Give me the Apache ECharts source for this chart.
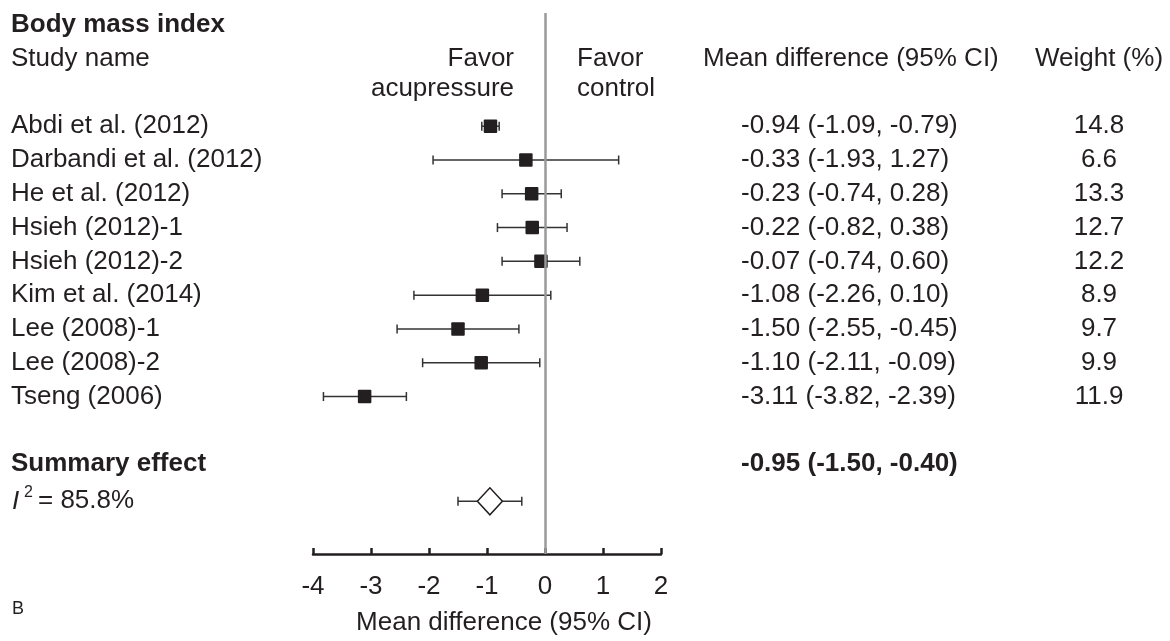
<!DOCTYPE html>
<html>
<head>
    <meta charset="UTF-8">
    <title>Body mass index</title>
    <script src="https://cdn.jsdelivr.net/npm/echarts@6/dist/echarts.min.js"></script>
    <style>html,body{margin:0;padding:0;background:#fff;}</style>
</head>
<body>
<div id="forest" style="width:1170px;height:641px;"></div>
<script>
    // study level data
    var studyNames = ['Abdi et al. (2012)', 'Darbandi et al. (2012)', 'He et al. (2012)', 'Hsieh (2012)-1',
        'Hsieh (2012)-2', 'Kim et al. (2014)', 'Lee (2008)-1', 'Lee (2008)-2', 'Tseng (2006)'];
    var meanDiff = [-0.94, -0.33, -0.23, -0.22, -0.07, -1.08, -1.50, -1.10, -3.11];
    var ciLow = [-1.09, -1.93, -0.74, -0.82, -0.74, -2.26, -2.55, -2.11, -3.82];
    var ciHigh = [-0.79, 1.27, 0.28, 0.38, 0.60, 0.10, -0.45, -0.09, -2.39];
    var weightPct = ['14.8', '6.6', '13.3', '12.7', '12.2', '8.9', '9.7', '9.9', '11.9'];
    // summary: estimate, lower, upper
    var summaryEffect = [-0.95, -1.50, -0.40];
    var iSquared = '85.8%';
    var xTicks = [-4, -3, -2, -1, 0, 1, 2];

    var FONT = '"Liberation Sans", Arial, sans-serif';
    var INK = '#231f20';
    var FS = 26;

    function fmt(v) { return v.toFixed(2); }
    function ciText(m, l, h) { return fmt(m) + ' (' + fmt(l) + ', ' + fmt(h) + ')'; }

    // text cells, placed on the y scale by row
    var cells = [];
    function cell(row, x, text, align, bold) {
        cells.push({row: row, x: x, text: text, align: align || 'left', bold: !!bold});
    }
    cell(-3, 11, 'Body mass index', 'left', true);
    cell(-2, 11, 'Study name');
    cell(-2, 514, 'Favor', 'right');
    cell(-1.12, 514, 'acupressure', 'right');
    cell(-2, 577, 'Favor');
    cell(-1.12, 577, 'control');
    cell(-2, 703, 'Mean difference (95% CI)');
    cell(-2, 1099, 'Weight (%)', 'center');
    for (var i = 0; i < studyNames.length; i++) {
        cell(i, 11, studyNames[i]);
        cell(i, 741, ciText(meanDiff[i], ciLow[i], ciHigh[i]));
        cell(i, 1099, weightPct[i], 'center');
    }
    cell(10, 11, 'Summary effect', 'left', true);
    cell(10, 741, ciText(summaryEffect[0], summaryEffect[1], summaryEffect[2]), 'left', true);
    var SUMMARY_ROW = 11.1;

    var chart = echarts.init(document.getElementById('forest'));

    function whisker(lo, hi, capH) {
        return [
            {type: 'line', shape: {x1: lo[0], y1: lo[1], x2: hi[0], y2: hi[1]}, style: {stroke: '#333', lineWidth: 1.5}},
            {type: 'line', shape: {x1: lo[0], y1: lo[1] - capH, x2: lo[0], y2: lo[1] + capH}, style: {stroke: '#333', lineWidth: 1.5}},
            {type: 'line', shape: {x1: hi[0], y1: hi[1] - capH, x2: hi[0], y2: hi[1] + capH}, style: {stroke: '#333', lineWidth: 1.5}}
        ];
    }

    var option = {
        animation: false,
        grid: {left: 313, right: 509, top: 13, bottom: 83.5, containLabel: false},
        xAxis: {
            type: 'value', min: xTicks[0], max: xTicks[xTicks.length - 1], interval: 1,
            axisLine: {onZero: false, lineStyle: {color: INK, width: 2.5}},
            axisTick: {inside: true, length: 6, lineStyle: {color: INK, width: 2.5}},
            axisLabel: {fontSize: FS, color: INK, fontFamily: FONT, margin: 20, showMinLabel: true, showMaxLabel: true},
            splitLine: {show: false},
            name: 'Mean difference (95% CI)', nameLocation: 'middle', nameGap: 56,
            nameTextStyle: {fontSize: FS, color: INK, fontFamily: FONT, padding: [0, 0, 0, 34]}
        },
        yAxis: {type: 'value', inverse: true, min: -3.35, max: 12.66, show: false},
        graphic: [{
            type: 'text', left: 12, top: 600,
            style: {text: 'B', fontSize: 18, fill: INK, fontFamily: FONT}
        }],
        series: [
            {
                // zero line
                type: 'line', data: [], z: 5,
                markLine: {
                    silent: true, symbol: 'none', label: {show: false},
                    lineStyle: {color: '#9a9a9a', width: 2.5, type: 'solid'},
                    data: [{xAxis: 0}]
                }
            },
            {
                // study CIs and squares
                type: 'custom', clip: false, z: 3,
                data: meanDiff.map(function (m, i) { return [m, ciLow[i], ciHigh[i], i]; }),
                encode: {x: [0, 1, 2], y: 3},
                renderItem: function (params, api) {
                    var row = api.value(3);
                    var c = api.coord([api.value(0), row]);
                    var lo = api.coord([api.value(1), row]);
                    var hi = api.coord([api.value(2), row]);
                    var kids = whisker(lo, hi, 4.5);
                    kids.push({type: 'rect', shape: {x: c[0] - 6.75, y: c[1] - 6.75, width: 13.5, height: 13.5, r: 1},
                        style: {fill: INK}});
                    return {type: 'group', children: kids};
                }
            },
            {
                // summary diamond
                type: 'custom', clip: false, z: 3,
                data: [[summaryEffect[0], summaryEffect[1], summaryEffect[2], SUMMARY_ROW]],
                encode: {x: [0, 1, 2], y: 3},
                renderItem: function (params, api) {
                    var row = api.value(3);
                    var c = api.coord([api.value(0), row]);
                    var lo = api.coord([api.value(1), row]);
                    var hi = api.coord([api.value(2), row]);
                    var kids = whisker(lo, hi, 4.5);
                    kids.push({type: 'polygon', shape: {points: [[c[0] - 12.5, c[1]], [c[0], c[1] - 13.5],
                            [c[0] + 12.5, c[1]], [c[0], c[1] + 13.5]]},
                        style: {fill: '#fff', stroke: INK, lineWidth: 1.5}});
                    return {type: 'group', children: kids};
                }
            },
            {
                // text columns
                type: 'custom', clip: false, silent: true,
                data: cells.map(function (t) { return [0, t.row]; }),
                encode: {x: 0, y: 1},
                renderItem: function (params, api) {
                    var t = cells[params.dataIndex];
                    var y = api.coord([0, t.row])[1];
                    return {
                        type: 'text', x: t.x, y: y,
                        style: {
                            text: t.text, fill: INK, fontSize: FS, fontFamily: FONT,
                            fontWeight: t.bold ? 'bold' : 'normal',
                            textAlign: t.align, textVerticalAlign: 'middle'
                        }
                    };
                }
            },
            {
                // I squared line
                type: 'custom', clip: false, silent: true,
                data: [[0, SUMMARY_ROW]],
                encode: {x: 0, y: 1},
                renderItem: function (params, api) {
                    var y = api.coord([0, api.value(1)])[1];
                    var base = {fill: INK, fontFamily: FONT, textVerticalAlign: 'middle'};
                    return {
                        type: 'group', children: [
                            {type: 'text', x: 12, y: y, style: Object.assign({text: 'I', fontSize: FS, fontStyle: 'italic'}, base)},
                            {type: 'text', x: 24, y: y - 9, style: Object.assign({text: '2', fontSize: 16}, base)},
                            {type: 'text', x: 38, y: y, style: Object.assign({text: '= ' + iSquared, fontSize: FS}, base)}
                        ]
                    };
                }
            }
        ]
    };
    chart.setOption(option);
</script>
</body>
</html>
